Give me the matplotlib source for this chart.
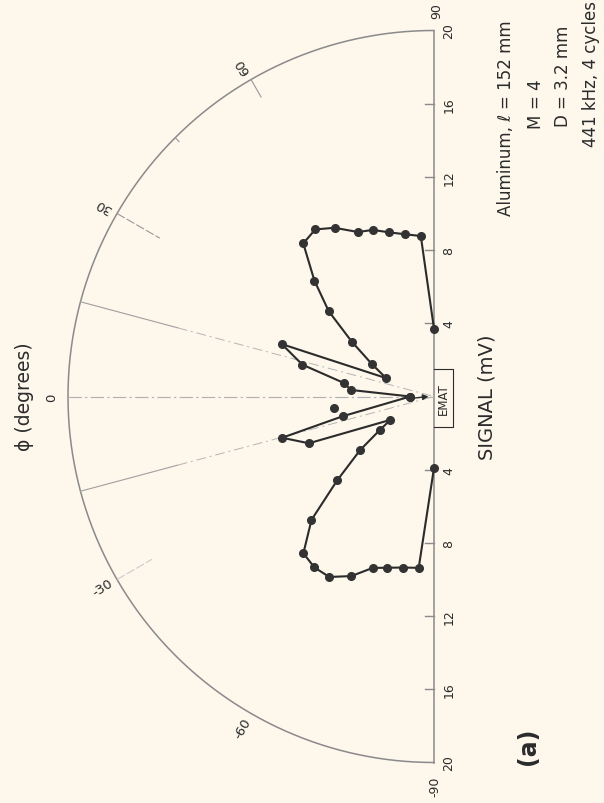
import numpy as np
import matplotlib.pyplot as plt

# measured pattern: angle phi (deg) and signal (mV)
phi_upper = [90, 85.3, 80, 74.7, 69.8, 65.2, 59.5, 54.6, 49.5, 44.1, 39.0, 33.7, 27.4, 21.0,
             19.0, 13.6, 8.6, 4.5, 0]
r_upper = [3.7, 8.8, 9.0, 9.3, 9.7, 9.9, 10.7, 11.2, 11.0, 9.1, 7.4, 5.4, 3.8, 2.8,
           8.8, 7.4, 5.0, 4.55, 1.3]
phi_lower = [0, -12.2, -15.2, -20.5, -28.2, -31.8, -36.0, -40.9, -45.2, -50.2, -55.0,
             -59.9, -65.3, -70.3, -74.7, -79.7, -84.9, -90]
r_lower = [1.3, 5.1, 8.6, 7.3, 2.7, 3.5, 5.0, 7.0, 9.5, 11.15, 11.4, 11.4, 10.8, 9.95,
           9.7, 9.5, 9.4, 3.9]
phi_stray = [-6.6]
r_stray = [5.5]

r_ticks = [4, 8, 12, 16, 20]
phi_labels = [-60, -30, 0, 30, 60]
r_max = 20

bg = '#fdf7ec'
ink = '#2b2b2b'
grid = '#8a8a8a'


def xy(phi, r):
    p = np.radians(np.asarray(phi, dtype=float))
    r = np.asarray(r, dtype=float)
    # figure is turned on its side: phi = 0 points left, +90 points up
    return -r * np.cos(p), r * np.sin(p)


s = 18.3  # px per mV
fig = plt.figure(figsize=(6.04, 8.04), dpi=100, facecolor=bg)
ax = fig.add_axes([0, 0, 1, 1])
ax.set_facecolor(bg)
ax.set_xlim(-434 / s, 170 / s)
ax.set_ylim((397.5 - 804) / s, 397.5 / s)
ax.axis('off')

# outer arc and baseline
th = np.linspace(-90, 90, 361)
ax.plot(*xy(th, np.full_like(th, r_max)), color=grid, lw=1.1)
ax.plot([0, 0], [-r_max, r_max], color=grid, lw=1.1)
for r in r_ticks[:-1]:
    for sign in (1, -1):
        ax.plot([-0.5, 0], [sign * r, sign * r], color=grid, lw=1)
        ax.text(0.82, sign * r, str(r), rotation=90, ha='center', va='center',
                fontsize=9, color=ink)
ax.text(0.82, r_max, '20', rotation=90, ha='center', va='center', fontsize=9, color=ink)
ax.text(0.82, -r_max, '20', rotation=90, ha='center', va='center', fontsize=9, color=ink)
ax.text(0.16, 21.1, '90', rotation=90, ha='center', va='center', fontsize=9, color=ink)
ax.text(0.05, -21.3, '-90', rotation=90, ha='center', va='center', fontsize=9, color=ink)

# radial guide lines
ax.plot(*xy([0, 0], [r_max, 0]), color='#b0b0b0', lw=0.8, ls=(0, (12, 3, 2, 3)))
for sign in (1, -1):
    ax.plot(*xy([sign * 15, sign * 15], [r_max, 14.5]), color='#a0a0a0', lw=0.8)
    ax.plot(*xy([sign * 15, sign * 15], [14.5, 0]), color='#b5b5b5', lw=0.7,
            ls=(0, (10, 4, 2, 4)))
ax.plot(*xy([30, 30], [r_max, 17.3]), color='#999999', lw=0.8, ls=(0, (8, 2)))
ax.plot(*xy([-30, -30], [r_max, 17.8]), color='#cccccc', lw=0.8, ls=(0, (8, 2)))
ax.plot(*xy([60, 60], [r_max, 18.9]), color='#999999', lw=0.8)
ax.plot(*xy([45, 45], [r_max, 19.7]), color='#999999', lw=0.8)

rot = {-60: 60, -30: 32, 0: 90, 30: 150, 60: 122}
for p in phi_labels:
    lx, ly = xy([p], [20.9])
    ax.text(lx[0], ly[0], str(p), rotation=rot[p], ha='center', va='center',
            fontsize=9.5, color=ink, rotation_mode='anchor')

# measured curve
for ph, rr in ((phi_upper, r_upper), (phi_lower, r_lower)):
    x, y = xy(ph, rr)
    ax.plot(x, y, color=ink, lw=1.5, marker='o', ms=5.5, mfc='#333333', mec='#333333')
x, y = xy(phi_stray, r_stray)
ax.plot(x, y, 'o', ms=5.5, color='#333333')

ax.annotate('', xy=(-0.15, 0.02), xytext=(-1.2, -0.1),
            arrowprops=dict(arrowstyle='-|>', color=ink, lw=1, mutation_scale=8))

# EMAT box
ax.plot([0, 1.04, 1.04, 0], [1.5, 1.5, -1.67, -1.67], color=ink, lw=0.8)
ax.text(0.52, -0.08, 'EMAT', rotation=90, ha='center', va='center', fontsize=8.5, color=ink)

# labels
fig.text(25 / 604, 1 - 397 / 804, 'ϕ (degrees)', rotation=90, ha='center', va='center',
         fontsize=13.5, color=ink)
fig.text(487 / 604, 1 - 397 / 804, 'SIGNAL (mV)', rotation=90, ha='center', va='center',
         fontsize=14, color=ink)
fig.text(528 / 604, 1 - 746 / 804, '(a)', rotation=90, ha='center', va='center',
         fontsize=17, fontweight='bold', color=ink)

y_eq = 1 - 109 / 804
for xc, left, right in ((506, 'Aluminum, ℓ ', '= 152 mm'),
                        (536, 'M ', '= 4'),
                        (563, 'D ', '= 3.2 mm')):
    fig.text(xc / 604, y_eq, left, rotation=90, ha='center', va='top', fontsize=12, color=ink)
    fig.text(xc / 604, y_eq, right, rotation=90, ha='center', va='bottom', fontsize=12,
             color=ink)
fig.text(591 / 604, 1 - 147 / 804, '441 kHz, 4 cycles', rotation=90, ha='center',
         va='bottom', fontsize=12, color=ink)

fig.savefig('out.png', dpi=100, facecolor=bg)
